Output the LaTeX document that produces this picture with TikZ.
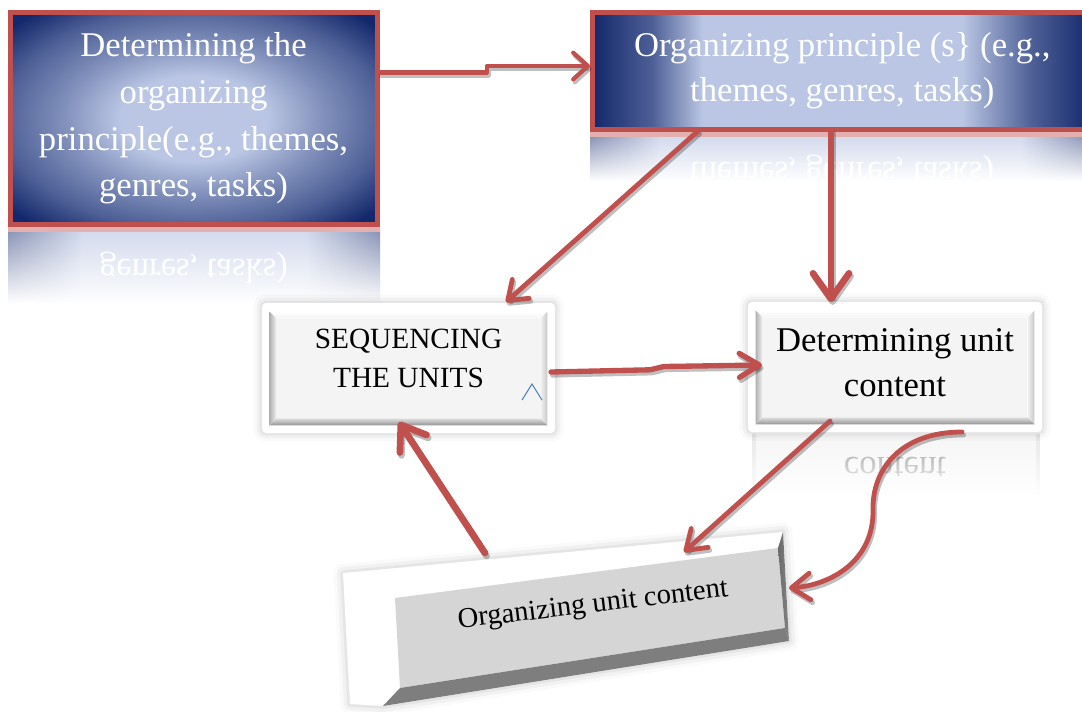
\documentclass[tikz,border=0pt]{standalone}
\usepackage{fontspec}
\setmainfont{Liberation Serif}
\usepackage{graphicx}
\usetikzlibrary{arrows.meta,calc,fadings}

% palette
\definecolor{linkred}{HTML}{C0504D}
\definecolor{navy}{HTML}{13286C}
\definecolor{paleblue}{HTML}{BAC6E4}
\colorlet{midblueA}{paleblue!65!navy}
\colorlet{midblueB}{paleblue!35!navy}
\colorlet{reflEdge}{navy!55!white}
\colorlet{reflCenter}{paleblue!70!white}
\definecolor{caretblue}{HTML}{4A7EBB}
\definecolor{facegray}{HTML}{D5D5D5}
\definecolor{darkface}{HTML}{7E7E7E}
\definecolor{sideface}{HTML}{858585}
\definecolor{panel}{HTML}{F4F4F4}

% glowing fills of the two heading boxes
\pgfdeclareradialshading{glowA}{\pgfpoint{0bp}{0bp}}{%
  color(0bp)=(paleblue); color(10bp)=(paleblue); color(18bp)=(midblueA);
  color(26bp)=(midblueB); color(33bp)=(navy); color(50bp)=(navy)}
\pgfdeclarehorizontalshading{glowB}{100bp}{%
  color(0bp)=(navy); color(25bp)=(navy); color(31bp)=(midblueB);
  color(36bp)=(paleblue); color(62bp)=(paleblue); color(69bp)=(midblueB);
  color(75bp)=(navy); color(100bp)=(navy)}
% paler versions for the mirror images below them
\pgfdeclarehorizontalshading{reflA}{100bp}{%
  color(0bp)=(reflEdge); color(25bp)=(reflEdge); color(35bp)=(reflCenter);
  color(65bp)=(reflCenter); color(75bp)=(reflEdge); color(100bp)=(reflEdge)}
\pgfdeclarehorizontalshading{reflB}{100bp}{%
  color(0bp)=(reflEdge); color(25bp)=(reflEdge); color(32bp)=(reflCenter);
  color(68bp)=(reflCenter); color(75bp)=(reflEdge); color(100bp)=(reflEdge)}

% white veil: clear at the top, solid at the bottom
\tikzfading[name=veilup, top color=transparent!90, bottom color=transparent!0]

% an arrow with its soft grey drop shadow
\newcommand\drawlink[2]{%
  \draw[linkshadow,#1] #2;
  \draw[linkmain,#1] #2;}

% bevelled face inside a white button
\newcommand\bevelpanel[1]{%
  \coordinate (#1o1) at ($(#1.north west)+(8,9)$);
  \coordinate (#1o2) at ($(#1.north east)+(-8,9)$);
  \coordinate (#1o3) at ($(#1.south east)+(-8,-8)$);
  \coordinate (#1o4) at ($(#1.south west)+(8,-8)$);
  \coordinate (#1i1) at ($(#1o1)+(7,7)$);
  \coordinate (#1i2) at ($(#1o2)+(-7,7)$);
  \coordinate (#1i3) at ($(#1o3)+(-7,-7)$);
  \coordinate (#1i4) at ($(#1o4)+(7,-7)$);
  \fill[panel] (#1i1) rectangle (#1i3);
  \shade[top color=white, bottom color=panel] (#1o1) -- (#1o2) -- (#1i2) -- (#1i1) -- cycle;
  \shade[left color=black!30, right color=panel] (#1o1) -- (#1i1) -- (#1i4) -- (#1o4) -- cycle;
  \shade[left color=panel, right color=black!22] (#1o2) -- (#1o3) -- (#1i3) -- (#1i2) -- cycle;
  \shade[top color=black!12, bottom color=black!42] (#1i4) -- (#1i3) -- (#1o3) -- (#1o4) -- cycle;}

\begin{document}
\begin{tikzpicture}[x=0.75pt,y=-0.75pt,
  headbox/.style={inner sep=0pt, draw=linkred, line width=3.75pt, text=white, align=center},
  plainbox/.style={inner sep=0pt, rounded corners=3pt, fill=white,
    preaction={draw=black, draw opacity=.02, line width=13pt},
    preaction={draw=black, draw opacity=.035, line width=8pt},
    preaction={draw=black, draw opacity=.05, line width=3.5pt}},
  linkmain/.style={draw=linkred, line cap=round, line join=round},
  linkshadow/.style={draw=black, draw opacity=.25, line cap=round, line join=round,
    transform canvas={shift={(1.2pt,-2.2pt)}}},
  veil/.style={fill=white, path fading=veilup},
  bigtext/.style={font=\fontsize{26}{35}\selectfont},
  midtext/.style={font=\fontsize{26}{33.75}\selectfont},
]
\useasboundingbox (0,0) rectangle (1082,711);
\clip (0,0) rectangle (1082,711);

% ---- mirror images under the boxes
\shade[shading=reflA] (8,227) rectangle (380,302);
\fill[linkred!45!white] (8,227) rectangle (380,232);
\node[anchor=base, text=white, bigtext] (mirA) at (193.5,259) {\scalebox{1}[-1]{genres, tasks)}};
\fill[veil] (7,232) rectangle (381,303);

\shade[shading=reflB] (590,132) rectangle (1090,180);
\fill[linkred!45!white] (590,132) rectangle (1090,137);
\node[anchor=base, text=white, midtext] (mirB) at (842,162) {\scalebox{1}[-1]{themes, genres, tasks)}};
\fill[veil] (589,137) rectangle (1091,181);

\fill[black!4] (752,434) rectangle (1040,495);
\fill[black!10] (752,434) rectangle (756,495);
\fill[black!10] (1036,434) rectangle (1040,495);
\node[anchor=base, text=black!45, midtext] (mirD) at (895,457) {\scalebox{1}[-1]{content}};
\fill[veil] (751,434) rectangle (1041,496);

% ---- heading boxes
\node[headbox, shading=glowA, bigtext, minimum width=275.25pt, minimum height=159pt]
  (A) at (193.5,118.5) {Determining the\\organizing\\principle(e.g., themes,\\genres, tasks)};
\node[headbox, shading=glowB, midtext, minimum width=374.6pt, minimum height=87.75pt]
  (B) at (842.25,71) {Organizing principle (s\} (e.g.,\\themes, genres, tasks)};

% ---- buttons
\node[plainbox, minimum width=219.75pt, minimum height=97.5pt] (C) at (408.5,368) {};
\bevelpanel{C}
\node[font=\fontsize{22}{29.25}\selectfont, align=center] (tC) at (408.5,358) {SEQUENCING\\THE UNITS};
\draw[caretblue, line width=0.75pt] (522,400) -- (532,384) -- (542,400);

\node[plainbox, minimum width=220.5pt, minimum height=97.5pt] (D) at (895,367) {};
\bevelpanel{D}
\node[midtext, align=center] (tD) at (895,363) {Determining unit\\content};

% ---- tilted block
\coordinate (Eo1) at (343,573);
\coordinate (Eo2) at (783,532);
\coordinate (Eo3) at (789,641);
\coordinate (Eb2) at (383,706);
\coordinate (Eo4) at (350,704);
\coordinate (Ei1) at (395,598);
\coordinate (Ei2) at (778,548);
\coordinate (Ei3) at (785,628);
\coordinate (Ei4) at (400,688);
\foreach \w/\o in {14/.02, 9/.035, 4/.05}
  \draw[black, draw opacity=\o, line width=\w pt, line join=round]
    (Eo1) -- (Eo2) -- (Eo3) -- (Eb2) -- (Eo4) -- cycle;
\fill[white] (Eo1) -- (Eo2) -- (Eo3) -- (Eb2) -- (Eo4) -- cycle;
\fill[facegray] (Ei1) -- (Ei2) -- (Ei3) -- (Ei4) -- cycle;
\fill[darkface] (Ei4) -- (Ei3) -- (Eo3) -- (Eb2) -- cycle;
\shade[left color=sideface!80!black, right color=sideface] (Ei2) -- (Eo2) -- (Eo3) -- (Ei3) -- cycle;
\node[rotate=6.8, font=\fontsize{21.5}{26}\selectfont] (E) at (593,606) {Organizing unit content};

% ---- connector end points
\coordinate (abstep1) at (487,72.5);
\coordinate (abstep2) at (487,66);
\coordinate (abend) at (590,66);
\coordinate (bcstart) at (698,131);
\coordinate (bcend) at (506,302);
\coordinate (bdstart) at (831,131);
\coordinate (bdend) at (831,302);
\coordinate (cdstart) at (551,372);
\coordinate (cdk1) at (650,369.8);
\coordinate (cdk2) at (664,366.5);
\coordinate (cdend) at (762,365);
\coordinate (destart) at (830,421);
\coordinate (deend) at (684,552);
\coordinate (dcstart) at (962,432);
\coordinate (dcmid) at (873,510);
\coordinate (dcend) at (789,588);
\coordinate (ecstart) at (485,553);
\coordinate (ecend) at (399,422);

% ---- connectors
\drawlink{line width=3.2pt, -{Straight Barb[length=11pt,width=20pt,round]}}
  {(A.east |- abstep1) -- (abstep1) -- (abstep2) -- (abend)}
\drawlink{line width=3.6pt, -{Straight Barb[length=13pt,width=19pt,round]}}
  {(bcstart) -- (bcend)}
\drawlink{line width=5pt, -{Straight Barb[length=19pt,width=27pt,round]}}
  {(bdstart) -- (bdend)}
\drawlink{line width=4pt, -{Straight Barb[length=15pt,width=18pt,round]}}
  {(cdstart) -- (cdk1) -- (cdk2) -- (cdend)}
\drawlink{line width=3.6pt, -{Straight Barb[length=14pt,width=19pt,round]}}
  {(destart) -- (deend)}
\drawlink{line width=3.6pt, -{Straight Barb[length=14pt,width=20pt,round]}}
  {(dcstart) .. controls (900,432) and (872,470) .. (dcmid) .. controls (874,560) and (832,585) .. (dcend)}
\drawlink{line width=5pt, -{Straight Barb[length=17pt,width=24pt,round]}}
  {(ecstart) -- (ecend)}
\end{tikzpicture}
\end{document}
